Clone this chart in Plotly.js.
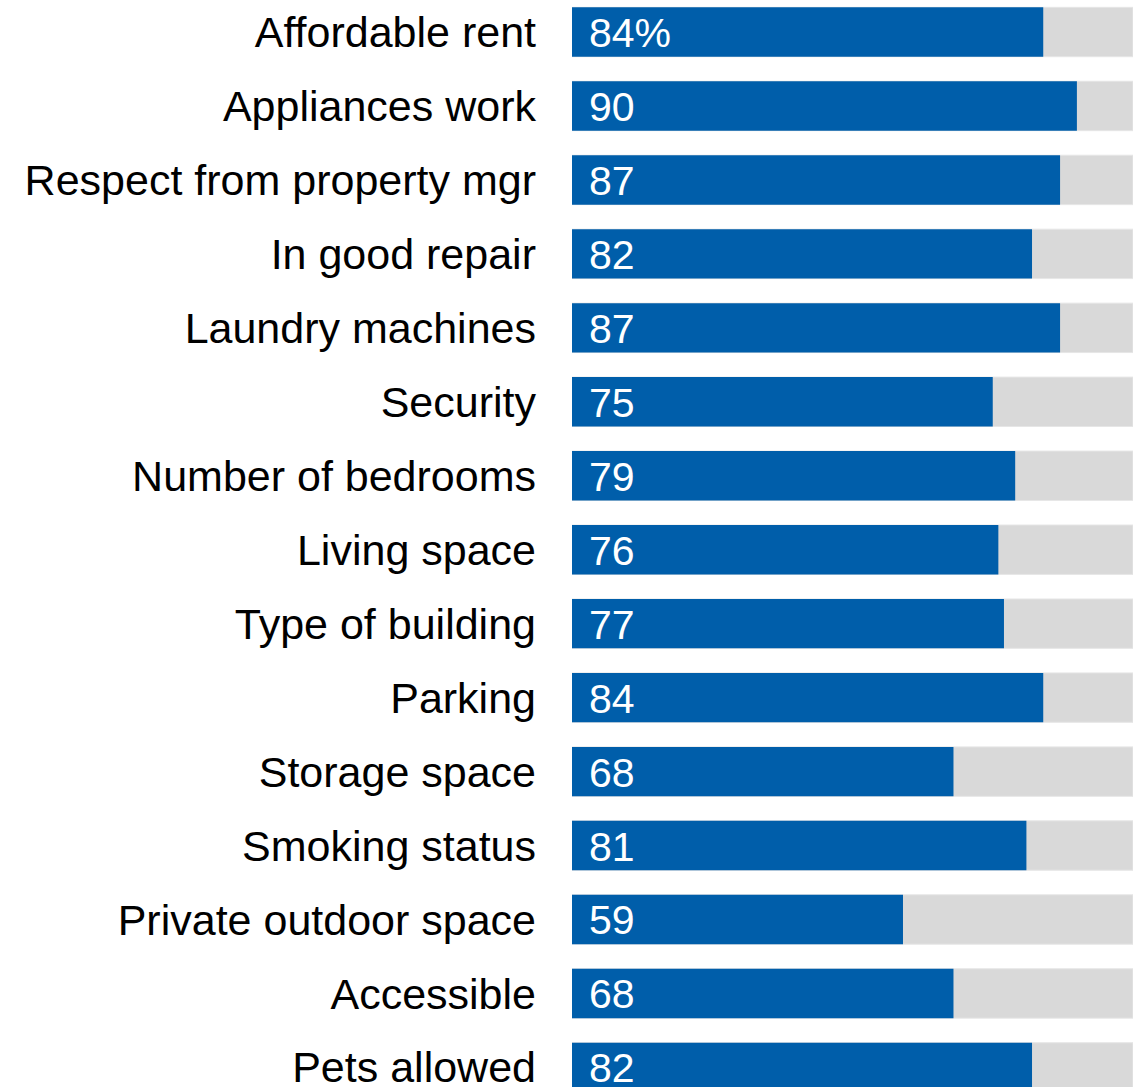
<!DOCTYPE html>
<html>
<head>
<meta charset="utf-8">
<script src="https://cdn.plot.ly/plotly-3.0.1.min.js"></script>
<style>html,body{margin:0;padding:0;background:#fff;}#chart{width:1141px;height:1087px;}</style>
</head>
<body>
<div id="chart"></div>
<script>
const categories = ["Affordable rent","Appliances work","Respect from property mgr","In good repair","Laundry machines","Security","Number of bedrooms","Living space","Type of building","Parking","Storage space","Smoking status","Private outdoor space","Accessible","Pets allowed"];
const values = [84, 90, 87, 82, 87, 75, 79, 76, 77, 84, 68, 81, 59, 68, 82];
const valueLabels = ["84%","90","87","82","87","75","79","76","77","84","68","81","59","68","82"];
const totals = categories.map(() => 100);

const bgTrace = {
  type: 'bar', orientation: 'h', y: categories, x: totals,
  marker: {color: '#d9d9d9', line: {color: '#e6e6e6', width: 1}},
  hoverinfo: 'skip', width: 0.668
};
const valTrace = {
  type: 'bar', orientation: 'h', y: categories, x: values,
  marker: {color: '#005eaa', line: {width: 0}},
  width: 0.668
};
const annotations = categories.map((c, i) => ({
  x: 0, y: c, xref: 'x', yref: 'y', text: valueLabels[i], showarrow: false,
  xanchor: 'left', yanchor: 'middle', xshift: 15, yshift: -1,
  font: {family: 'Liberation Sans, Arial, sans-serif', size: 41, color: '#ffffff'}
}));
const layout = {
  width: 1141, height: 1087,
  margin: {l: 572, r: 8, t: 0, b: 0, pad: 0},
  paper_bgcolor: '#ffffff', plot_bgcolor: '#ffffff',
  barmode: 'overlay', showlegend: false,
  xaxis: {range: [0, 100], visible: false, fixedrange: true},
  yaxis: {
    type: 'category', range: [14.265, -0.433], autorange: false,
    showgrid: false, zeroline: false, showline: false, ticks: '',
    ticklabelstandoff: 35,
    tickfont: {family: 'Liberation Sans, Arial, sans-serif', size: 43, color: '#000000'}
  },
  annotations: annotations
};
Plotly.newPlot('chart', [bgTrace, valTrace], layout, {displayModeBar: false, staticPlot: true});
</script>
</body>
</html>
